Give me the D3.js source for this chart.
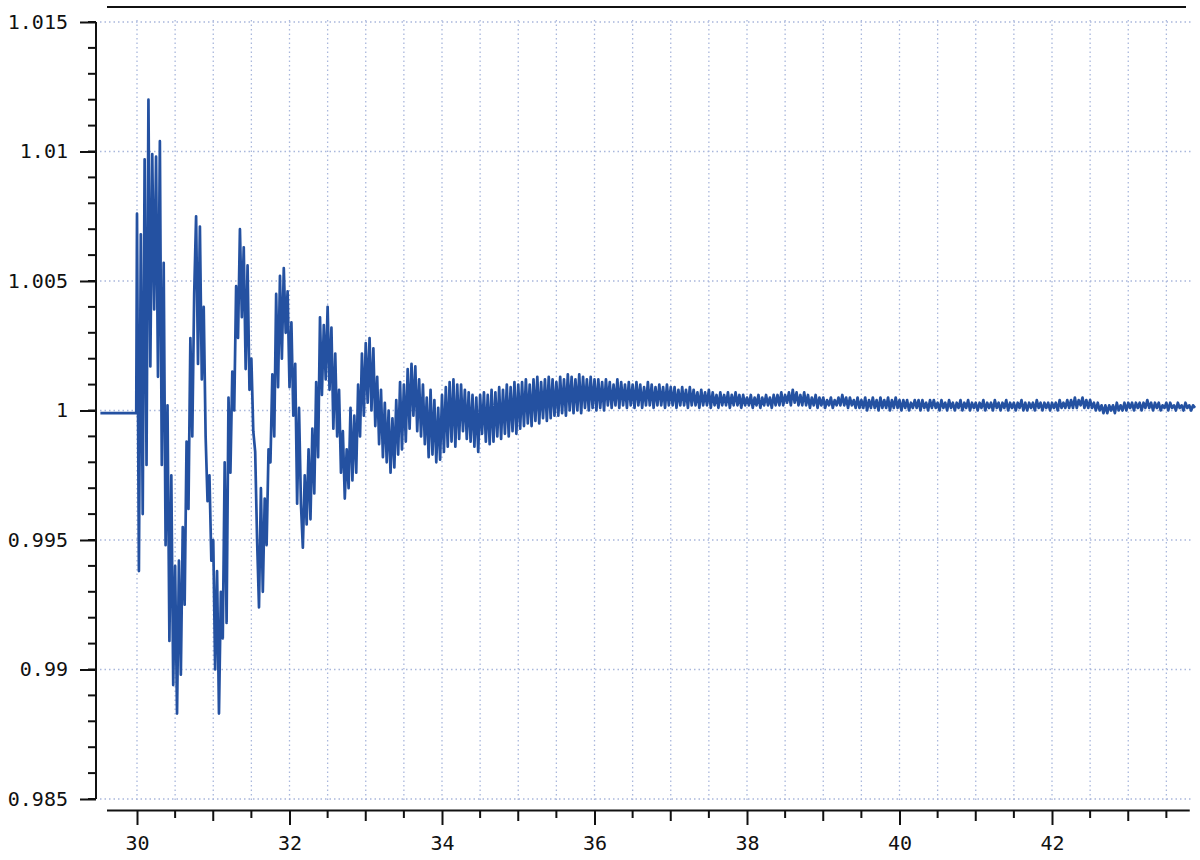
<!DOCTYPE html>
<html>
<head>
<meta charset="utf-8">
<script src="https://cdn.jsdelivr.net/npm/d3@7"></script>
<style>
  html, body { margin: 0; padding: 0; background: #ffffff; }
  svg { display: block; }
</style>
</head>
<body>
<script>
// ---------------- DATA ----------------
// y-axis tick labels (major) and x-axis tick labels
const yTickLabels = [0.985, 0.99, 0.995, 1, 1.005, 1.01, 1.015];
const xTickLabels = [30, 32, 34, 36, 38, 40, 42];

// flat pre-disturbance part
const flatTime  = [29.52, 29.99];
const flatValue = [0.9999, 0.9999];

// early oscillation, sampled every 0.025 from t = 30.000
const earlyStart = 30.0, earlyStep = 0.025;
const earlyValue = [
  1.0076, 0.9938, 1.0068, 0.9960, 1.0097, 0.9979, 1.0120, 1.0017, 1.0099, 1.0039,
  1.0098, 1.0013, 1.0104, 0.9979, 1.0057, 0.9948, 1.0002, 0.9911, 0.9975, 0.9894,
  0.9940, 0.9883, 0.9942, 0.9898, 0.9955, 0.9925, 0.9988, 0.9962, 1.0028, 0.9990,
  1.0045, 1.0075, 1.0018, 1.0071, 1.0012, 1.0040, 0.9990, 0.9965, 0.9975, 0.9942,
  0.9950, 0.9900, 0.9938, 0.9883, 0.9930, 0.9912, 0.9980, 0.9918, 1.0005, 0.9976,
  1.0015, 1.0000, 1.0048, 1.0028, 1.0070, 1.0036, 1.0063, 1.0016, 1.0056, 1.0008,
  1.0020, 0.9992, 0.9984, 0.9950, 0.9924, 0.9970, 0.9930, 0.9966, 0.9948, 0.9985,
  0.9980, 1.0014, 0.9990, 1.0045, 1.0009, 1.0052, 1.0020, 1.0055, 1.0030, 1.0046,
  1.0009, 1.0034, 0.9998, 1.0018, 0.9964, 1.0001, 0.9964, 0.9947, 0.9975, 0.9956,
  0.9985, 0.9958, 0.9993, 0.9968, 1.0011, 0.9982, 1.0036, 1.0006, 1.0033, 1.0012,
  1.0040, 1.0008, 1.0032, 0.9993, 1.0022, 0.9990, 1.0008, 0.9976, 0.9992, 0.9966,
  0.9985, 0.9970, 1.0001, 0.9973, 0.9998, 0.9976, 1.0010, 0.9990, 1.0022, 0.9998,
  1.0026, 1.0003, 1.0028, 1.0000, 1.0024, 0.9994, 1.0013, 0.9987, 1.0008, 0.9982,
  1.0003, 0.9980, 1.0000, 0.9976, 0.9997, 0.9978, 1.0004, 0.9983, 1.0011, 0.9985,
  1.0010, 0.9988, 1.0016, 0.9993, 1.0018, 0.9998, 1.0017, 0.9992, 1.0012, 0.9990,
  1.0010, 0.9987, 1.0005, 0.9982, 1.0008, 0.9983, 1.0004, 0.9980, 1.0001, 0.9981,
  1.0006, 0.9984, 1.0009, 0.9986, 1.0011, 0.9988, 1.0012, 0.9986, 1.0010, 0.9989,
  1.0010, 0.9992, 1.0008, 0.9989, 1.0007, 0.9988, 1.0006, 0.9986, 1.0005, 0.9984,
  1.0006
];

// settling part, sampled every 0.025 from t = 34.525
const lateStart = 34.525, lateStep = 0.025;
const lateValue = [
  0.9991, 1.0007, 0.9988, 1.0006, 0.9987, 1.0008, 0.9988, 1.0007, 0.9990, 1.0009, 0.9989, 1.0008, 0.9991, 1.0010, 0.9990, 1.0009, 0.9992, 1.0011, 0.9991, 1.0010,
  0.9993, 1.0011, 0.9994, 1.0012, 0.9995, 1.0010, 0.9994, 1.0012, 0.9996, 1.0013, 0.9995, 1.0011, 0.9997, 1.0012, 0.9996, 1.0013, 0.9997, 1.0012, 0.9998, 1.0011,
  0.9998, 1.0013, 0.9999, 1.0012, 0.9998, 1.0014, 1.0000, 1.0013, 0.9999, 1.0012, 1.0000, 1.0014, 0.9999, 1.0013, 1.0001, 1.0012, 1.0000, 1.0013, 1.0001, 1.0012,
  1.0000, 1.0012, 1.0001, 1.0011, 1.0000, 1.0012, 1.0002, 1.0011, 1.0001, 1.0010, 1.0002, 1.0012, 1.0001, 1.0011, 1.0002, 1.0010, 1.0001, 1.0011, 1.0002, 1.0010,
  1.0001, 1.0011, 1.0002, 1.0010, 1.0001, 1.0009, 1.0002, 1.0011, 1.0002, 1.0010, 1.0001, 1.0009, 1.0002, 1.0010, 1.0002, 1.0009, 1.0001, 1.0010, 1.0002, 1.0009,
  1.0002, 1.0009, 1.0001, 1.0008, 1.0002, 1.0009, 1.0002, 1.0008, 1.0001, 1.0009, 1.0002, 1.0008, 1.0002, 1.0007, 1.0001, 1.0008, 1.0002, 1.0007, 1.0002, 1.0008,
  1.0001, 1.0007, 1.0002, 1.0006, 1.0001, 1.0007, 1.0002, 1.0006, 1.0002, 1.0007, 1.0001, 1.0006, 1.0002, 1.0007, 1.0002, 1.0006, 1.0001, 1.0006, 1.0002, 1.0005,
  1.0002, 1.0006, 1.0001, 1.0005, 1.0002, 1.0006, 1.0001, 1.0005, 1.0002, 1.0006, 1.0002, 1.0005, 1.0001, 1.0006, 1.0002, 1.0006, 1.0002, 1.0007, 1.0002, 1.0006,
  1.0003, 1.0007, 1.0002, 1.0008, 1.0003, 1.0007, 1.0002, 1.0006, 1.0002, 1.0007, 1.0002, 1.0006, 1.0001, 1.0005, 1.0002, 1.0006, 1.0001, 1.0005, 1.0002, 1.0005,
  1.0001, 1.0004, 1.0002, 1.0005, 1.0001, 1.0004, 1.0002, 1.0005, 1.0002, 1.0006, 1.0002, 1.0005, 1.0001, 1.0005, 1.0002, 1.0004, 1.0001, 1.0005, 1.0001, 1.0004,
  1.0001, 1.0005, 1.0000, 1.0004, 1.0001, 1.0005, 1.0001, 1.0004, 1.0000, 1.0005, 1.0001, 1.0004, 1.0001, 1.0005, 1.0000, 1.0004, 1.0001, 1.0005, 1.0001, 1.0004,
  1.0000, 1.0004, 1.0001, 1.0004, 1.0000, 1.0003, 1.0001, 1.0004, 1.0001, 1.0004, 1.0000, 1.0004, 1.0001, 1.0003, 1.0000, 1.0004, 1.0001, 1.0004, 1.0001, 1.0003,
  1.0000, 1.0004, 1.0001, 1.0003, 1.0000, 1.0004, 1.0001, 1.0003, 1.0000, 1.0003, 1.0001, 1.0004, 1.0000, 1.0003, 1.0001, 1.0004, 1.0000, 1.0003, 1.0001, 1.0003,
  1.0000, 1.0003, 1.0001, 1.0004, 1.0000, 1.0003, 1.0001, 1.0003, 1.0000, 1.0004, 1.0001, 1.0003, 1.0000, 1.0003, 1.0001, 1.0004, 1.0000, 1.0003, 1.0001, 1.0003,
  1.0000, 1.0003, 1.0001, 1.0004, 1.0000, 1.0003, 1.0000, 1.0003, 1.0001, 1.0003, 1.0000, 1.0004, 1.0001, 1.0003, 1.0000, 1.0003, 1.0001, 1.0003, 1.0000, 1.0003,
  1.0001, 1.0003, 1.0000, 1.0004, 1.0001, 1.0003, 1.0001, 1.0004, 1.0001, 1.0004, 1.0001, 1.0005, 1.0001, 1.0004, 1.0002, 1.0005, 1.0001, 1.0004, 1.0001, 1.0004,
  1.0001, 1.0003, 1.0000, 1.0003, 1.0000, 1.0002, 0.9999, 1.0002, 0.9999, 1.0002, 1.0000, 1.0002, 0.9999, 1.0003, 1.0000, 1.0002, 1.0000, 1.0003, 1.0000, 1.0003,
  1.0001, 1.0003, 1.0000, 1.0003, 1.0001, 1.0003, 1.0000, 1.0003, 1.0001, 1.0004, 1.0001, 1.0003, 1.0000, 1.0003, 1.0001, 1.0003, 1.0000, 1.0002, 1.0001, 1.0003,
  1.0000, 1.0003, 1.0001, 1.0002, 1.0000, 1.0003, 1.0001, 1.0002, 1.0000, 1.0003, 1.0001, 1.0002, 1.0000, 1.0002, 1.0001
];

// ---------------- CHART ----------------
const W = 1200, H = 860;
const svg = d3.select("body").append("svg").attr("width", W).attr("height", H);

const x = d3.scaleLinear().domain([29.6, 43.8]).range([106.5, 1189.25]);
const y = d3.scaleLinear().domain([0.985, 1.015]).range([799, 22]);

const series = [];
flatTime.forEach((t, i) => series.push([t, flatValue[i]]));
earlyValue.forEach((v, i) => series.push([earlyStart + i * earlyStep, v]));
lateValue.forEach((v, i) => series.push([lateStart + i * lateStep, v]));

const gridColor = "#a9b7dc";

// vertical grid every 0.5
const vGrid = d3.range(30, 43.75, 0.5);
svg.append("g").selectAll("line").data(vGrid).join("line")
  .attr("x1", d => x(d)).attr("x2", d => x(d))
  .attr("y1", 20).attr("y2", 801)
  .attr("stroke", gridColor).attr("stroke-width", 1.3)
  .attr("stroke-dasharray", "1.5,3");

// horizontal grid at major y ticks
svg.append("g").selectAll("line").data(yTickLabels).join("line")
  .attr("x1", 100).attr("x2", 1193)
  .attr("y1", d => y(d)).attr("y2", d => y(d))
  .attr("stroke", gridColor).attr("stroke-width", 1.3)
  .attr("stroke-dasharray", "1.5,3");

// top border line
svg.append("line")
  .attr("x1", 107).attr("x2", 1186).attr("y1", 7).attr("y2", 7)
  .attr("stroke", "#111").attr("stroke-width", 2);

// Y axis
const yAxisG = svg.append("g").attr("transform", "translate(96,0)");
yAxisG.call(d3.axisLeft(y).tickValues(yTickLabels).tickSize(16).tickSizeOuter(0)
  .tickFormat(d3.format("")));
const yMinor = d3.range(0, 31).map(i => 0.985 + i * 0.001);
yAxisG.append("g").selectAll("line").data(yMinor).join("line")
  .attr("x1", -8).attr("x2", 0)
  .attr("y1", d => y(d)).attr("y2", d => y(d))
  .attr("stroke", "#111").attr("stroke-width", 2);
yAxisG.select(".domain").attr("stroke", "#111").attr("stroke-width", 2)
  .attr("d", `M0,${y(0.985)}V${y(1.015)}`);
yAxisG.selectAll(".tick line").attr("stroke", "#111").attr("stroke-width", 2);
yAxisG.selectAll(".tick text")
  .attr("x", -28)
  .attr("font-family", "'DejaVu Sans Mono', monospace")
  .attr("font-size", 20).attr("fill", "#111");

// X axis
const xAxisG = svg.append("g").attr("transform", "translate(0,810)");
xAxisG.call(d3.axisBottom(x).tickValues(xTickLabels).tickSize(15).tickSizeOuter(0)
  .tickFormat(d3.format("d")));
const xMinor = d3.range(30.5, 43.75, 0.5).filter(d => d % 2 !== 0);
xAxisG.append("g").selectAll("line").data(xMinor).join("line")
  .attr("x1", d => x(d)).attr("x2", d => x(d))
  .attr("y1", 0).attr("y2", d => (Math.abs(d - Math.round(d)) < 1e-9 ? 11 : 8))
  .attr("stroke", "#111").attr("stroke-width", 2);
xAxisG.select(".domain").attr("stroke", "#111").attr("stroke-width", 2);
xAxisG.selectAll(".tick line").attr("stroke", "#111").attr("stroke-width", 2);
xAxisG.selectAll(".tick text")
  .attr("y", 26)
  .attr("font-family", "'DejaVu Sans Mono', monospace")
  .attr("font-size", 20).attr("fill", "#111");

// signal line
const line = d3.line().x(d => x(d[0])).y(d => y(d[1]));
svg.append("path")
  .datum(series)
  .attr("d", line)
  .attr("fill", "none")
  .attr("stroke", "#2451a1")
  .attr("stroke-width", 2.7)
  .attr("stroke-linejoin", "round");
</script>
</body>
</html>
